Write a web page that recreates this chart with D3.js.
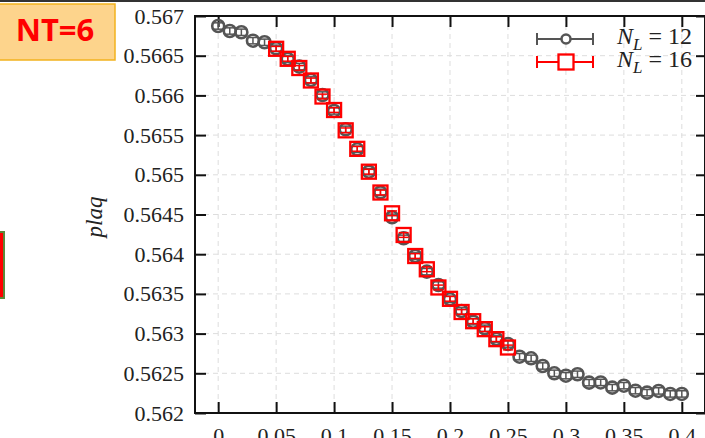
<!DOCTYPE html>
<html>
<head>
<meta charset="utf-8">
<script src="https://cdn.jsdelivr.net/npm/d3@7"></script>
<style>
  body { margin: 0; background: #fff; }
  svg { display: block; }
</style>
</head>
<body>
<svg id="chart" width="705" height="438"></svg>
<script>
// Data
const xs12 = [0, 0.01, 0.02, 0.03, 0.04, 0.05, 0.06, 0.07, 0.08, 0.09, 0.10,
  0.11, 0.12, 0.13, 0.14, 0.15, 0.16, 0.17, 0.18, 0.19, 0.20,
  0.21, 0.22, 0.23, 0.24, 0.25, 0.26, 0.27, 0.28, 0.29, 0.30,
  0.31, 0.32, 0.33, 0.34, 0.35, 0.36, 0.37, 0.38, 0.39, 0.40]
const plaq12 = [0.566874, 0.566811, 0.566795, 0.566689, 0.566669, 0.566593, 0.566458, 0.566362, 0.566194, 0.566005, 0.565804,
  0.565573, 0.565321, 0.565039, 0.564779, 0.564465, 0.564200, 0.563977, 0.563780, 0.563612, 0.563432,
  0.563285, 0.563150, 0.563067, 0.562932, 0.562869, 0.562709, 0.562689, 0.562592, 0.562500, 0.562470,
  0.562488, 0.562382, 0.562385, 0.562319, 0.562344, 0.562281, 0.562256, 0.562278, 0.562240, 0.562240]
const err12 = 0.00004

const xs16 = [0.05, 0.06, 0.07, 0.08, 0.09, 0.10, 0.11, 0.12, 0.13, 0.14, 0.15,
  0.16, 0.17, 0.18, 0.19, 0.20, 0.21, 0.22, 0.23, 0.24, 0.25]
const plaq16 = [0.566587, 0.566461, 0.566345, 0.566188, 0.565986, 0.565816, 0.565560, 0.565327, 0.565039, 0.564777, 0.564515,
  0.564242, 0.563977, 0.563810, 0.563581, 0.563438, 0.563272, 0.563156, 0.563056, 0.562930, 0.562825]
const err16 = 0.00003

const xTicks = [0, 0.05, 0.1, 0.15, 0.2, 0.25, 0.3, 0.35, 0.4]
const xTickLabels = ["0", "0.05", "0.1", "0.15", "0.2", "0.25", "0.3", "0.35", "0.4"]
const yTicks = [0.562, 0.5625, 0.563, 0.5635, 0.564, 0.5645, 0.565, 0.5655, 0.566, 0.5665, 0.567]
const yTickLabels = ["0.562", "0.5625", "0.563", "0.5635", "0.564", "0.5645", "0.565", "0.5655", "0.566", "0.5665", "0.567"]

const svg = d3.select("#chart")
const pLeft = 195, pRight = 705, pTop = 16, pBottom = 413
const serif = "'Liberation Serif', 'Times New Roman', serif"

const x = d3.scaleLinear().domain([-0.02, 0.42]).range([pLeft, pRight])
const y = d3.scaleLinear().domain([0.562, 0.567]).range([pBottom, pTop])

// dark strip along the top edge
svg.append("rect").attr("x", 0).attr("y", 0).attr("width", 705).attr("height", 2).attr("fill", "#333")

// NT box
svg.append("rect").attr("x", -2).attr("y", 4).attr("width", 117).attr("height", 56)
  .attr("fill", "#fdd48c").attr("stroke", "#f2b21e").attr("stroke-width", 1.5)
svg.append("text").attr("x", 55).attr("y", 41).attr("text-anchor", "middle")
  .attr("font-family", "'Noto Sans', 'DejaVu Sans', sans-serif").attr("font-weight", "bold")
  .attr("font-size", 31).attr("fill", "#ff0000").text("NT=6")

// partial red marker at left edge
svg.append("rect").attr("x", -4).attr("y", 232).attr("width", 8).attr("height", 66)
  .attr("fill", "#ff0000").attr("stroke", "#5a8a3a").attr("stroke-width", 2)

// grid
const grid = svg.append("g").attr("stroke", "#ddd").attr("stroke-width", 1).attr("stroke-dasharray", "5,4")
grid.selectAll(".gx").data(xTicks).enter().append("line")
  .attr("x1", d => x(d)).attr("x2", d => x(d)).attr("y1", pTop).attr("y2", pBottom)
grid.selectAll(".gy").data(yTicks).enter().append("line")
  .attr("x1", pLeft).attr("x2", pRight).attr("y1", d => y(d)).attr("y2", d => y(d))

// axes (inward ticks)
const axisFont = g => g.selectAll("text").attr("font-family", serif).attr("font-size", 22).attr("fill", "#222")
const axisStyle = g => { g.select(".domain").remove(); g.selectAll("line").attr("stroke", "#111").attr("stroke-width", 2) }

svg.append("g").attr("transform", `translate(${pLeft},0)`)
  .call(d3.axisLeft(y).tickValues(yTicks).tickFormat((d, i) => yTickLabels[i]).tickSize(-11).tickPadding(11))
  .call(axisStyle).call(axisFont)
svg.append("g").attr("transform", `translate(${pRight},0)`)
  .call(d3.axisRight(y).tickValues(yTicks).tickFormat("").tickSize(-9))
  .call(axisStyle)
svg.append("g").attr("transform", `translate(0,${pBottom})`)
  .call(d3.axisBottom(x).tickValues(xTicks).tickFormat((d, i) => xTickLabels[i]).tickSize(-11).tickPadding(14))
  .call(axisStyle).call(axisFont)
svg.append("g").attr("transform", `translate(0,${pTop})`)
  .call(d3.axisTop(x).tickValues(xTicks).tickFormat("").tickSize(-11))
  .call(axisStyle)

// frame
svg.append("rect").attr("x", pLeft).attr("y", pTop).attr("width", pRight - pLeft).attr("height", pBottom - pTop)
  .attr("fill", "none").attr("stroke", "#111").attr("stroke-width", 2)

// y label
svg.append("text").attr("transform", `translate(102,217) rotate(-90)`).attr("text-anchor", "middle")
  .attr("font-family", serif).attr("font-style", "italic").attr("font-size", 23).attr("fill", "#222").text("plaq")

function errorBars(g, xs, vs, e, color, cap) {
  const sel = g.selectAll(null).data(xs).enter().append("g").attr("stroke", color).attr("stroke-width", 1.5)
  sel.append("line").attr("x1", d => x(d)).attr("x2", d => x(d))
    .attr("y1", (d, i) => y(vs[i] - e)).attr("y2", (d, i) => y(vs[i] + e))
  sel.append("line").attr("x1", d => x(d) - cap).attr("x2", d => x(d) + cap)
    .attr("y1", (d, i) => y(vs[i] - e)).attr("y2", (d, i) => y(vs[i] - e))
  sel.append("line").attr("x1", d => x(d) - cap).attr("x2", d => x(d) + cap)
    .attr("y1", (d, i) => y(vs[i] + e)).attr("y2", (d, i) => y(vs[i] + e))
}

// N_L = 12
const g12 = svg.append("g")
errorBars(g12, xs12, plaq12, err12, "#555", 5)
g12.selectAll("circle").data(xs12).enter().append("circle")
  .attr("cx", d => x(d)).attr("cy", (d, i) => y(plaq12[i])).attr("r", 6)
  .attr("fill", "none").attr("stroke", "#555").attr("stroke-width", 2.6)

// N_L = 16
const g16 = svg.append("g")
errorBars(g16, xs16, plaq16, err16, "#ff0000", 5)
g16.selectAll("rect").data(xs16).enter().append("rect")
  .attr("x", d => x(d) - 7).attr("y", (d, i) => y(plaq16[i]) - 7).attr("width", 14).attr("height", 14)
  .attr("fill", "none").attr("stroke", "#ff0000").attr("stroke-width", 2.3)

// legend
const legend = [
  { label: "12", color: "#555", cy: 39, shape: "circle" },
  { label: "16", color: "#ff0000", cy: 62, shape: "square" }
]
legend.forEach(l => {
  const g = svg.append("g").attr("stroke", l.color).attr("stroke-width", 2)
  g.append("line").attr("x1", 537).attr("x2", 593).attr("y1", l.cy).attr("y2", l.cy)
  g.append("line").attr("x1", 537).attr("x2", 537).attr("y1", l.cy - 6).attr("y2", l.cy + 6)
  g.append("line").attr("x1", 593).attr("x2", 593).attr("y1", l.cy - 6).attr("y2", l.cy + 6)
  if (l.shape === "circle") {
    g.append("circle").attr("cx", 566).attr("cy", l.cy).attr("r", 4.5).attr("fill", "#fff").attr("stroke-width", 2.5)
  } else {
    g.append("rect").attr("x", 558.5).attr("y", l.cy - 7.5).attr("width", 15).attr("height", 15).attr("fill", "#fff").attr("stroke-width", 2.3)
  }
  const t = svg.append("text").attr("x", 617).attr("y", l.cy + 5).attr("font-family", serif).attr("font-size", 24).attr("fill", "#222")
  t.append("tspan").attr("font-style", "italic").text("N")
  t.append("tspan").attr("font-style", "italic").attr("font-size", 17).attr("dy", 6).text("L")
  t.append("tspan").attr("dy", -6).text(" = " + l.label)
})
</script>
</body>
</html>
